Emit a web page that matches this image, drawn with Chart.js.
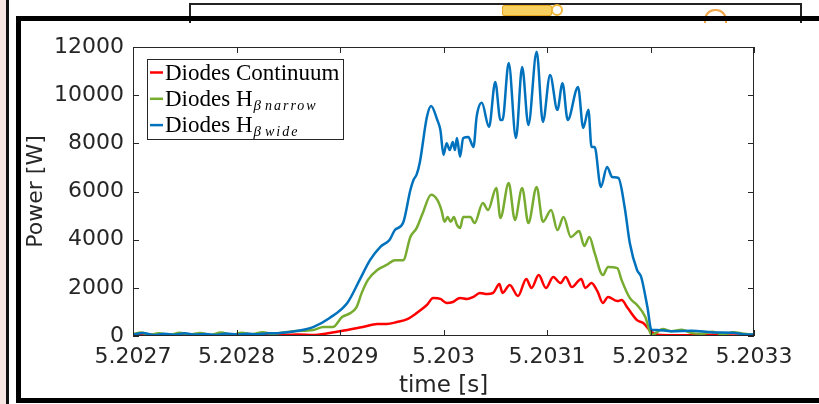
<!DOCTYPE html>
<html>
<head>
<meta charset="utf-8">
<script src="https://cdn.jsdelivr.net/npm/chart.js@4.4.1/dist/chart.umd.min.js"></script>
<style>
  html, body { margin: 0; padding: 0; background: #fff; }
  #wrap { position: relative; width: 819px; height: 404px; overflow: hidden; }
  #chart { position: absolute; left: 0; top: 0; }
  .deco { position: absolute; pointer-events: none; box-sizing: border-box; }
</style>
</head>
<body>
<div id="wrap">
  <!-- bits of the window behind the figure -->
  <div class="deco" style="left:0;top:0;width:6px;height:404px;background:#f7e6e2"></div>
  <div class="deco" style="left:6px;top:0;width:3px;height:404px;background:#111"></div>
  <div class="deco" style="left:189px;top:3px;width:613px;height:20px;border:2px solid #222;border-bottom:none;background:#fff"></div>
  <div class="deco" style="left:502px;top:5px;width:50px;height:11px;background:#f8d060;border:1px solid #e9a722;border-radius:2px"></div>
  <div class="deco" style="left:551px;top:4px;width:12px;height:12px;background:#fff;border:2px solid #f1b83a;border-radius:50%"></div>
  <div class="deco" style="left:704px;top:9px;width:23px;height:14px;border:2px solid #f2a64a;border-bottom:none;border-radius:11px 11px 0 0"></div>

  <canvas id="chart" width="819" height="404"></canvas>

  <!-- figure frame -->
  <div class="deco" style="left:16px;top:16px;width:820px;height:387px;border:5px solid #000;border-right:none"></div>
</div>

<script>
// time axis is kept as microseconds after 5.2027 s
const xTickLabels = ['5.2027', '5.2028', '5.2029', '5.203', '5.2031', '5.2032', '5.2033'];
const yTickLabels = ['0', '2000', '4000', '6000', '8000', '10000', '12000'];

const legendMain = ['Diodes Continuum', 'Diodes H', 'Diodes H'];
const legendSub = ['', 'narrow', 'wide'];

// Diodes Continuum (red)
const continuumT = [0, 20, 40, 60, 80, 100, 120, 142, 160, 174,
  190, 207, 222, 236, 245, 255, 265, 274, 284, 290,
  297, 303, 309, 316, 323, 329, 335, 342, 348, 354,
  357, 364, 372, 380, 385, 392, 399, 406, 413, 418,
  424, 433, 437, 443, 449, 454, 459, 468, 472, 478,
  487, 493, 501, 509, 530, 560, 580, 600];
const continuumP = [30, 50, 20, 40, 30, 50, 30, 40, 60, 40,
  125, 250, 370, 500, 500, 580, 700, 950, 1290, 1580,
  1540, 1370, 1410, 1580, 1540, 1620, 1790, 1740, 1790, 2160,
  1790, 2120, 1660, 2370, 1990, 2530, 1990, 2450, 2200, 2450,
  2030, 2370, 1990, 2200, 1830, 1370, 1620, 1450, 1490, 1160,
  660, 540, 170, 40, 30, 50, 20, 40];

// Diodes H-beta narrow (green)
const narrowT = [0, 8, 15, 25, 35, 45, 55, 65, 75, 85,
  95, 105, 115, 125, 135, 142, 155, 174, 184, 193,
  202, 210, 216, 221, 227, 236, 245, 253, 261, 268,
  274, 280, 288, 294, 298, 301, 304, 307, 310, 313,
  316, 319, 326, 330, 338, 343, 351, 355, 363, 369,
  376, 382, 390, 396, 404, 410, 416, 423, 431, 436,
  441, 446, 454, 459, 468, 472, 480, 487, 495, 501,
  512, 520, 530, 540, 550, 560, 570, 580, 590, 600];
const narrowP = [80, 150, 40, 110, 30, 140, 60, 120, 40, 150,
  50, 130, 70, 160, 90, 125, 200, 250, 370, 370,
  790, 950, 1200, 1790, 2330, 2740, 2950, 3150, 3150, 4110,
  4480, 5110, 5860, 5650, 5230, 4740, 4940, 4740, 4940, 4610,
  4480, 4940, 4940, 4690, 5520, 5230, 6150, 4900, 6350, 4820,
  6150, 4690, 6190, 4740, 5230, 4400, 4940, 4110, 4360, 3740,
  4110, 3450, 2530, 2870, 2820, 2330, 1580, 1290, 790, 40,
  290, 200, 260, 120, 90, 180, 60, 160, 90, 40];

// Diodes H-beta wide (blue)
const wideT = [0, 10, 20, 30, 40, 50, 60, 70, 80, 90,
  100, 110, 120, 130, 142, 161, 174, 190, 207, 219,
  229, 239, 248, 253, 261, 268, 271, 274, 277, 284,
  288, 294, 297, 300, 303, 306, 309, 311, 313, 316,
  319, 324, 329, 332, 337, 344, 350, 355, 357, 363,
  370, 376, 382, 390, 396, 403, 410, 415, 420, 430,
  435, 440, 443, 446, 452, 458, 463, 469, 475, 480,
  487, 491, 497, 501, 506, 520, 540, 560, 580, 590, 600];
const wideP = [60, 120, 40, 90, 50, 110, 60, 80, 40, 100,
  60, 90, 70, 110, 125, 230, 370, 750, 1370, 2330,
  3150, 3700, 4000, 4400, 4700, 6060, 6480, 6700, 7180, 9100,
  9550, 8970, 8550, 7520, 8000, 7720, 8060, 7720, 8220, 7440,
  8220, 8260, 7850, 9100, 9680, 8680, 10550, 8970, 8970, 11340,
  8220, 11170, 8760, 11800, 8890, 10840, 9390, 10500, 8970, 10340,
  8640, 9390, 7850, 7850, 6190, 7020, 6600, 6560, 5360, 3860,
  2740, 2450, 1200, 250, 250, 200, 220, 150, 130, 70, 60];

const textColor = '#262626';
const colors = ['#ff0000', '#77ac30', '#0072bd'];

function toPoints(ts, ps) {
  return ts.map((t, i) => ({ x: t, y: ps[i] }));
}

// MATLAB style box with inward ticks on all four sides
const boxPlugin = {
  id: 'matlabBox',
  afterDatasetsDraw(chart) {
    const { ctx, chartArea: a, scales: { x, y } } = chart;
    const len = 6;
    ctx.save();
    ctx.strokeStyle = textColor;
    ctx.lineWidth = 1;
    ctx.strokeRect(a.left + 0.5, a.top + 0.5, a.right - a.left - 1, a.bottom - a.top - 1);
    ctx.beginPath();
    x.ticks.forEach(t => {
      const px = Math.round(x.getPixelForValue(t.value)) + 0.5;
      ctx.moveTo(px, a.bottom); ctx.lineTo(px, a.bottom - len);
      ctx.moveTo(px, a.top); ctx.lineTo(px, a.top + len);
    });
    y.ticks.forEach(t => {
      const py = Math.round(y.getPixelForValue(t.value)) + 0.5;
      ctx.moveTo(a.left, py); ctx.lineTo(a.left + len, py);
      ctx.moveTo(a.right, py); ctx.lineTo(a.right - len, py);
    });
    ctx.stroke();
    ctx.restore();
  }
};

// legend with LaTeX-like subscripts
const legendPlugin = {
  id: 'matlabLegend',
  afterDraw(chart) {
    const { ctx, chartArea: a } = chart;
    const x0 = a.left + 14, y0 = a.top + 12, w = 196, h = 80;
    ctx.save();
    ctx.fillStyle = '#fff';
    ctx.fillRect(x0, y0, w, h);
    ctx.strokeStyle = textColor;
    ctx.lineWidth = 1;
    ctx.strokeRect(x0 + 0.5, y0 + 0.5, w, h);
    legendMain.forEach((label, i) => {
      const base = y0 + 20.5 + i * 26.3;
      ctx.strokeStyle = colors[i];
      ctx.lineWidth = 2.5;
      ctx.beginPath();
      ctx.moveTo(x0 + 3, base - 7);
      ctx.lineTo(x0 + 16, base - 7);
      ctx.stroke();
      ctx.fillStyle = '#000';
      ctx.textBaseline = 'alphabetic';
      ctx.font = '23px "Liberation Serif"';
      ctx.fillText(label, x0 + 18, base);
      if (legendSub[i]) {
        let sx = x0 + 18 + ctx.measureText(label).width + 1;
        ctx.font = 'italic 15px "Liberation Serif"';
        ctx.fillText('\u03b2', sx, base + 4);
        sx += ctx.measureText('\u03b2').width + 4;
        ctx.font = 'italic 14px "Liberation Serif"';
        ctx.letterSpacing = '2px';
        ctx.fillText(legendSub[i], sx, base + 4);
        ctx.letterSpacing = '0px';
      }
    });
    ctx.restore();
  }
};

const tickFont = { family: 'DejaVu Sans', size: 22 };

new Chart(document.getElementById('chart'), {
  type: 'line',
  data: {
    datasets: [
      { label: 'Diodes Continuum', data: toPoints(continuumT, continuumP), borderColor: colors[0], order: 3 },
      { label: 'Diodes H\u03b2 narrow', data: toPoints(narrowT, narrowP), borderColor: colors[1], order: 2 },
      { label: 'Diodes H\u03b2 wide', data: toPoints(wideT, wideP), borderColor: colors[2], order: 1 }
    ]
  },
  options: {
    responsive: false,
    animation: false,
    devicePixelRatio: 1,
    layout: { padding: { left: 0, right: 65, top: 47, bottom: 0 } },
    plugins: { legend: { display: false }, tooltip: { enabled: false } },
    elements: {
      point: { radius: 0 },
      line: { borderWidth: 2.5, cubicInterpolationMode: 'monotone', fill: false }
    },
    scales: {
      x: {
        type: 'linear', min: 0, max: 600,
        afterFit: s => { s.height = 68; },
        grid: { display: false, drawTicks: false },
        border: { display: false },
        ticks: {
          stepSize: 100, padding: 8, color: textColor, font: tickFont,
          maxRotation: 0, autoSkip: false,
          callback: (v, i) => xTickLabels[i]
        },
        title: {
          display: true, text: 'time [s]', color: textColor,
          font: { family: 'DejaVu Sans', size: 23 }, padding: { top: 0, bottom: 4 }
        }
      },
      y: {
        min: 0, max: 12000,
        afterFit: s => { s.width = 133; },
        grid: { display: false, drawTicks: false },
        border: { display: false },
        ticks: {
          stepSize: 2000, padding: 9, color: textColor, font: tickFont,
          callback: (v, i) => yTickLabels[i]
        },
        title: {
          display: true, text: 'Power [W]', color: textColor,
          font: { family: 'DejaVu Sans', size: 22 }, padding: { top: 23, bottom: 0 }
        }
      }
    }
  },
  plugins: [boxPlugin, legendPlugin]
});
</script>
</body>
</html>
